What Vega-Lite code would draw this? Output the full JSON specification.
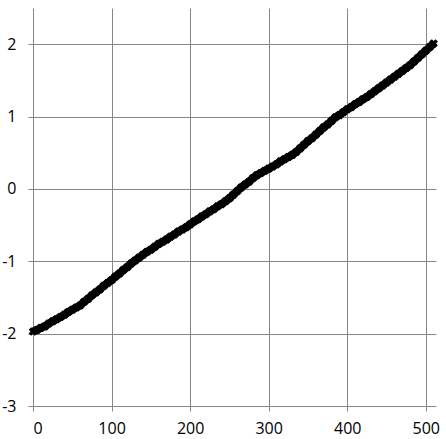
{
  "$schema": "https://vega.github.io/schema/vega-lite/v6.json",
  "autosize": {"type": "none"},
  "padding": {"left": 33, "top": 8, "right": 10, "bottom": 33},
  "width": 403,
  "height": 398,
  "background": "white",
  "config": {
    "view": {"stroke": null},
    "axis": {
      "labelFont": "Open Sans",
      "labelFontSize": 16,
      "labelColor": "#000000",
      "gridColor": "#868686",
      "gridOpacity": 1,
      "gridWidth": 1,
      "tickColor": "#868686",
      "tickSize": 5,
      "tickWidth": 1,
      "domain": false,
      "title": null
    }
  },
  "data": {
    "values": [
      {"x": 0, "y": -1.97}, {"x": 5, "y": -1.95}, {"x": 10, "y": -1.92}, {"x": 15, "y": -1.9}, {"x": 20, "y": -1.86},
      {"x": 25, "y": -1.83}, {"x": 30, "y": -1.8}, {"x": 35, "y": -1.77}, {"x": 40, "y": -1.74}, {"x": 45, "y": -1.7},
      {"x": 50, "y": -1.67}, {"x": 55, "y": -1.64}, {"x": 60, "y": -1.61}, {"x": 65, "y": -1.56}, {"x": 70, "y": -1.52},
      {"x": 75, "y": -1.47}, {"x": 80, "y": -1.43}, {"x": 85, "y": -1.39}, {"x": 90, "y": -1.34}, {"x": 95, "y": -1.3},
      {"x": 100, "y": -1.26}, {"x": 105, "y": -1.21}, {"x": 110, "y": -1.17}, {"x": 115, "y": -1.12}, {"x": 120, "y": -1.08},
      {"x": 125, "y": -1.03}, {"x": 130, "y": -0.99}, {"x": 135, "y": -0.95}, {"x": 140, "y": -0.91}, {"x": 145, "y": -0.87},
      {"x": 150, "y": -0.84}, {"x": 155, "y": -0.8}, {"x": 160, "y": -0.76}, {"x": 165, "y": -0.73}, {"x": 170, "y": -0.7},
      {"x": 175, "y": -0.66}, {"x": 180, "y": -0.63}, {"x": 185, "y": -0.59}, {"x": 190, "y": -0.56}, {"x": 195, "y": -0.53},
      {"x": 200, "y": -0.49}, {"x": 205, "y": -0.45}, {"x": 210, "y": -0.42}, {"x": 215, "y": -0.38}, {"x": 220, "y": -0.35},
      {"x": 225, "y": -0.31}, {"x": 230, "y": -0.28}, {"x": 235, "y": -0.24}, {"x": 240, "y": -0.21}, {"x": 245, "y": -0.17},
      {"x": 250, "y": -0.13}, {"x": 255, "y": -0.08}, {"x": 260, "y": -0.03}, {"x": 265, "y": 0.02}, {"x": 270, "y": 0.06},
      {"x": 275, "y": 0.1}, {"x": 280, "y": 0.15}, {"x": 285, "y": 0.19}, {"x": 290, "y": 0.22}, {"x": 295, "y": 0.25},
      {"x": 300, "y": 0.28}, {"x": 305, "y": 0.31}, {"x": 310, "y": 0.34}, {"x": 315, "y": 0.38}, {"x": 320, "y": 0.41},
      {"x": 325, "y": 0.44}, {"x": 330, "y": 0.47}, {"x": 335, "y": 0.51}, {"x": 340, "y": 0.56}, {"x": 345, "y": 0.61},
      {"x": 350, "y": 0.66}, {"x": 355, "y": 0.7}, {"x": 360, "y": 0.75}, {"x": 365, "y": 0.8}, {"x": 370, "y": 0.85},
      {"x": 375, "y": 0.89}, {"x": 380, "y": 0.94}, {"x": 385, "y": 0.99}, {"x": 390, "y": 1.02}, {"x": 395, "y": 1.06},
      {"x": 400, "y": 1.1}, {"x": 405, "y": 1.13}, {"x": 410, "y": 1.17}, {"x": 415, "y": 1.2}, {"x": 420, "y": 1.24},
      {"x": 425, "y": 1.27}, {"x": 430, "y": 1.31}, {"x": 435, "y": 1.35}, {"x": 440, "y": 1.39}, {"x": 445, "y": 1.43},
      {"x": 450, "y": 1.47}, {"x": 455, "y": 1.51}, {"x": 460, "y": 1.55}, {"x": 465, "y": 1.59}, {"x": 470, "y": 1.63},
      {"x": 475, "y": 1.67}, {"x": 480, "y": 1.71}, {"x": 485, "y": 1.76}, {"x": 490, "y": 1.81}, {"x": 495, "y": 1.86},
      {"x": 500, "y": 1.91}, {"x": 505, "y": 1.96}, {"x": 510, "y": 2.01}
    ]
  },
  "encoding": {
    "x": {
      "field": "x",
      "type": "quantitative",
      "scale": {"domain": [0, 513], "nice": false, "zero": false},
      "axis": {"values": [0, 100, 200, 300, 400, 500], "labelPadding": 9}
    },
    "y": {
      "field": "y",
      "type": "quantitative",
      "scale": {"domain": [-3, 2.5], "nice": false, "zero": false},
      "axis": {"values": [-3, -2, -1, 0, 1, 2], "labelPadding": 12, "labelExpr": "replace(datum.label, '\u2212', '-')"}
    }
  },
  "layer": [
    {"mark": {"type": "line", "color": "#000000", "strokeWidth": 8, "clip": false}},
    {"mark": {"type": "point", "shape": "cross", "angle": 45, "filled": true, "color": "#000000", "size": 75, "opacity": 1, "clip": false}}
  ]
}
